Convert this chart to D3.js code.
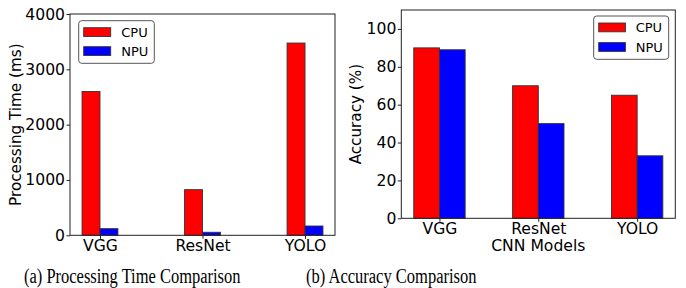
<!DOCTYPE html>
<html>
<head>
<meta charset="utf-8">
<script src="https://cdn.jsdelivr.net/npm/d3@7"></script>
<style>
  html, body { margin: 0; padding: 0; background: #fff; }
  svg { display: block; }
  text { font-family: "DejaVu Sans", sans-serif; fill: #000; }
</style>
</head>
<body>
<svg id="chart" width="686" height="288"></svg>
<script>
// ---- Data ----
const models = ["VGG", "ResNet", "YOLO"];
const seriesNames = ["CPU", "NPU"];
const timeCPU = [2600, 825, 3475];
const timeNPU = [120, 55, 168];
const accCPU = [90, 70, 65];
const accNPU = [89, 50, 33];
const timeTicks = [0, 1000, 2000, 3000, 4000];
const accTicks = [0, 20, 40, 60, 80, 100];
const colors = ["#ff0000", "#0000ff"];

const svg = d3.select("#chart");

function panel(opts) {
  const { left, right, top, bottom, barW, yMax, ticks, cpu, npu, ylabel, ylabelX,
          legend, xlabel, caption, captionX, captionW } = opts;
  const g = svg.append("g");
  const n = models.length;
  const margin = 0.05 * ((n - 1) + 2 * barW);
  const x = d3.scaleLinear().domain([-barW - margin, (n - 1) + barW + margin]).range([left, right]);
  const y = d3.scaleLinear().domain([0, yMax]).range([bottom, top]);

  const data = [];
  models.forEach((m, i) => {
    data.push({ i, s: 0, v: cpu[i] });
    data.push({ i, s: 1, v: npu[i] });
  });

  g.selectAll("rect.bar").data(data).enter().append("rect")
    .attr("class", "bar")
    .attr("x", d => d.s === 0 ? x(d.i - barW) : x(d.i))
    .attr("width", d => x(barW) - x(0))
    .attr("y", d => y(d.v))
    .attr("height", d => y(0) - y(d.v))
    .attr("fill", d => colors[d.s])
    .attr("stroke", "#333")
    .attr("stroke-width", 0.9);

  // Frame
  g.append("rect")
    .attr("x", left).attr("y", top)
    .attr("width", right - left).attr("height", bottom - top)
    .attr("fill", "none").attr("stroke", "#222").attr("stroke-width", 1);

  // Y axis
  const ya = g.append("g").attr("transform", `translate(${left},0)`)
    .call(d3.axisLeft(y).tickValues(ticks).tickSize(3.5).tickPadding(1.5).tickFormat(d3.format("d")));
  ya.select(".domain").remove();
  ya.selectAll("line").attr("stroke", "#222");
  ya.selectAll("text").style("font-size", "15.6px").attr("fill", "#000");

  // X axis
  const xa = g.append("g").attr("transform", `translate(0,${bottom})`)
    .call(d3.axisBottom(x).tickValues(d3.range(n)).tickSize(3.5).tickPadding(1)
      .tickFormat(i => models[i]));
  xa.select(".domain").remove();
  xa.selectAll("line").attr("stroke", "#222");
  xa.selectAll("text").style("font-size", "15.6px").attr("fill", "#000");

  // Y label
  g.append("text")
    .attr("transform", `translate(${ylabelX},${(top + bottom) / 2}) rotate(-90)`)
    .attr("text-anchor", "middle")
    .style("font-size", "15.2px")
    .text(ylabel);

  if (xlabel) {
    g.append("text")
      .attr("x", (left + right) / 2).attr("y", bottom + 33)
      .attr("text-anchor", "middle")
      .style("font-size", "15.6px")
      .text(xlabel);
  }

  // Legend
  const L = legend;
  g.append("rect")
    .attr("x", L.x).attr("y", L.y).attr("width", L.w).attr("height", L.h)
    .attr("rx", 3).attr("fill", "#fff").attr("stroke", "#555").attr("stroke-width", 1);
  seriesNames.forEach((s, k) => {
    const py = L.y + L.p0 + k * L.step;
    g.append("rect")
      .attr("x", L.x + 5).attr("y", py)
      .attr("width", L.pw).attr("height", 8.8)
      .attr("fill", colors[k]).attr("stroke", "#333").attr("stroke-width", 0.9);
    g.append("text")
      .attr("x", L.x + L.tx).attr("y", py + 9.2)
      .style("font-size", "13px")
      .text(s);
  });

  // Caption
  svg.append("text")
    .attr("x", captionX).attr("y", 283)
    .attr("textLength", captionW).attr("lengthAdjust", "spacingAndGlyphs")
    .style("font-family", "'Liberation Serif', 'Times New Roman', serif")
    .style("font-size", "20.5px")
    .text(caption);
}

panel({
  left: 70, right: 335, top: 14, bottom: 235.3, barW: 0.175, yMax: 4000, ticks: timeTicks,
  cpu: timeCPU, npu: timeNPU, ylabel: "Processing Time (ms)", ylabelX: 21,
  legend: { x: 78.7, y: 20.7, w: 75.6, h: 42.6, p0: 7, step: 19, pw: 27, tx: 42.6 },
  xlabel: null, caption: "(a) Processing Time Comparison", captionX: 24, captionW: 216.5
});

panel({
  left: 401.3, right: 675.3, top: 10, bottom: 218.3, barW: 0.26, yMax: 110, ticks: accTicks,
  cpu: accCPU, npu: accNPU, ylabel: "Accuracy (%)", ylabelX: 361,
  legend: { x: 593.7, y: 16, w: 75, h: 43.3, p0: 7, step: 19.6, pw: 26.7, tx: 42 },
  xlabel: "CNN Models", caption: "(b) Accuracy Comparison", captionX: 306, captionW: 170.5
});
</script>
</body>
</html>
